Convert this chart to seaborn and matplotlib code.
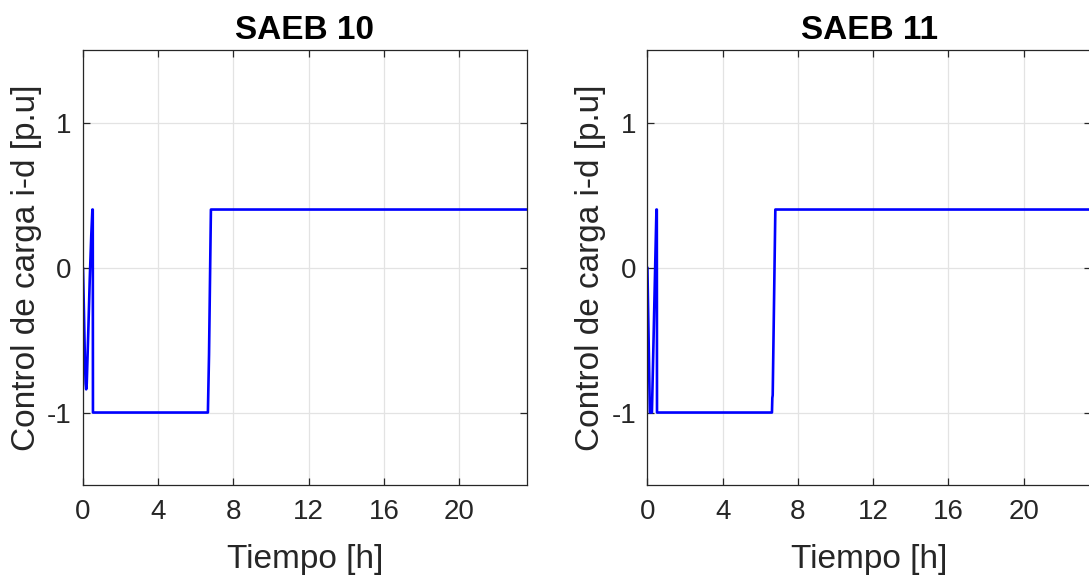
import numpy as np
import pandas as pd
import seaborn as sns
import matplotlib.pyplot as plt

# Load-control signal (i-d) per storage unit, time in hours
t_saeb10 = [0.0, 0.05, 0.10, 0.14, 0.17, 0.20, 0.28, 0.36, 0.44, 0.50, 0.52, 0.53,
            6.64, 6.70, 6.80, 23.6]
v_saeb10 = [0.0, -0.30, -0.62, -0.80, -0.84, -0.80, -0.45, -0.08, 0.22, 0.40, 0.40, -1.0,
            -1.0, -0.60, 0.40, 0.40]

t_saeb11 = [0.0, 0.13, 0.24, 0.48, 0.50, 0.51, 6.62, 6.64, 6.66, 6.80, 23.6]
v_saeb11 = [0.0, -1.0, -1.0, 0.40, 0.40, -1.0, -1.0, -0.90, -0.88, 0.40, 0.40]

titles = ["SAEB 10", "SAEB 11"]
x_ticks = [0, 4, 8, 12, 16, 20]
y_ticks = [-1, 0, 1]
x_label = "Tiempo [h]"
y_label = "Control de carga i-d [p.u]"

sns.set_theme(style="whitegrid")
plt.rcParams["font.family"] = ["Liberation Sans", "DejaVu Sans"]
plt.rcParams["axes.unicode_minus"] = False

dark = "#262626"
fig = plt.figure(figsize=(10.89, 5.79), dpi=100)
fig.patch.set_facecolor("white")

positions = [[0.0762, 0.1623, 0.4077, 0.7513],
             [0.5945, 0.1623, 0.4077, 0.7513]]
series = [(t_saeb10, v_saeb10), (t_saeb11, v_saeb11)]

for pos, (t, v), title in zip(positions, series, titles):
    ax = fig.add_axes(pos)
    df = pd.DataFrame({"t": t, "v": v})
    sns.lineplot(data=df, x="t", y="v", ax=ax, color="#0000ff", linewidth=1.9,
                 estimator=None, sort=False)
    ax.set_xlim(0, 23.6)
    ax.set_ylim(-1.5, 1.5)
    ax.set_xticks(x_ticks)
    ax.set_yticks(y_ticks)
    ax.set_facecolor("white")
    ax.grid(True, color="#e3e3e3", linewidth=0.9)
    for s in ax.spines.values():
        s.set_visible(True)
        s.set_color(dark)
        s.set_linewidth(0.9)
    ax.tick_params(direction="in", length=5, width=0.9, color=dark,
                   labelcolor=dark, labelsize=20, top=True, right=True,
                   bottom=True, left=True, pad=8)
    ax.tick_params(axis="x", pad=10)
    ax.set_xlabel(x_label, fontsize=24, color=dark, labelpad=14)
    ax.set_ylabel(y_label, fontsize=24, color=dark, labelpad=4)
    ax.set_title(title, fontsize=24, fontweight="bold", color="black", pad=8)

fig.savefig("out.png", dpi=100, facecolor="white")
